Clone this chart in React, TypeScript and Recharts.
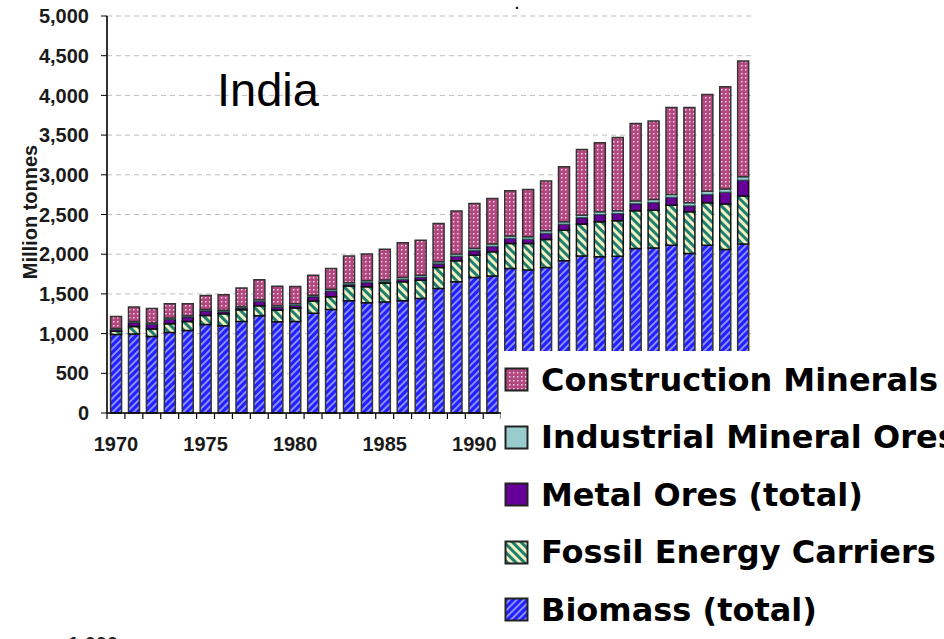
import React from 'react';
import { BarChart, Bar, XAxis, YAxis, CartesianGrid, Legend } from 'recharts';

// India, domestic material extraction 1970-2005 (million tonnes)
const years = [
  1970, 1971, 1972, 1973, 1974, 1975, 1976, 1977, 1978, 1979, 1980, 1981,
  1982, 1983, 1984, 1985, 1986, 1987, 1988, 1989, 1990, 1991, 1992, 1993,
  1994, 1995, 1996, 1997, 1998, 1999, 2000, 2001, 2002, 2003, 2004, 2005,
];

const biomass = [
  990, 995, 965, 1015, 1040, 1115, 1100, 1153, 1225, 1150, 1153, 1255,
  1305, 1413, 1390, 1398, 1413, 1443, 1569, 1652, 1707, 1724, 1821, 1800,
  1833, 1917, 1976, 1967, 1975, 2073, 2078, 2114, 2010, 2114, 2060, 2127,
];

const fossilEnergy = [
  40, 95, 93, 109, 113, 113, 151, 147, 126, 143, 169, 157,
  159, 185, 200, 235, 239, 230, 264, 264, 281, 306, 315, 336,
  353, 386, 403, 441, 445, 473, 475, 504, 524, 533, 571, 605,
];

const metalOres = [
  25, 51, 61, 58, 57, 60, 27, 26, 58, 42, 36, 53,
  73, 22, 54, 20, 31, 39, 46, 59, 57, 69, 64, 54,
  78, 75, 81, 93, 92, 90, 99, 98, 75, 106, 150, 201,
];

const industrialMinerals = [
  10, 12, 14, 14, 15, 15, 15, 16, 17, 17, 18, 18,
  20, 20, 22, 22, 24, 24, 25, 26, 27, 28, 28, 29,
  30, 30, 32, 33, 34, 35, 36, 37, 38, 39, 40, 42,
];

const constructionMinerals = [
  150, 181, 184, 180, 151, 177, 197, 232, 252, 243, 218, 252,
  264, 336, 336, 387, 436, 441, 484, 542, 568, 576, 570, 597,
  627, 693, 828, 869, 925, 975, 990, 1096, 1202, 1219, 1289, 1458,
];

const yTicks = [0, 500, 1000, 1500, 2000, 2500, 3000, 3500, 4000, 4500, 5000];

// legend reads top-down, opposite to the stacking order
const legendOrder = ['construction', 'industrial', 'metal', 'fossil', 'biomass'];

const data = years.map((year, i) => ({
  year,
  biomass: biomass[i],
  fossil: fossilEnergy[i],
  metal: metalOres[i],
  industrial: industrialMinerals[i],
  construction: constructionMinerals[i],
}));

const axisFont = '"Liberation Sans", Arial, sans-serif';
const legendLeft = 501; // legend box sits over the right part of the plot

function Patterns({ prefix }: { prefix: string }) {
  return (
    <defs>
      <pattern id={`${prefix}bio`} width='5' height='5' patternUnits='userSpaceOnUse' patternTransform='rotate(45)'>
        <rect width='5' height='5' fill='#1f1fff' />
        <rect width='2' height='5' fill='#8c8cff' />
      </pattern>
      <pattern id={`${prefix}fossil`} width='6' height='6' patternUnits='userSpaceOnUse' patternTransform='rotate(-45)'>
        <rect width='6' height='6' fill='#1e7f6e' />
        <rect width='3' height='6' fill='#f0f0c4' />
      </pattern>
      <pattern id={`${prefix}constr`} width='4' height='4' patternUnits='userSpaceOnUse'>
        <rect width='4' height='4' fill='#b3477f' />
        <rect x='1' y='1' width='1.5' height='1.5' fill='#f3d2e4' />
      </pattern>
    </defs>
  );
}

const legendFill: Record<string, string> = {
  construction: 'url(#lgconstr)',
  industrial: '#99cccc',
  metal: '#660099',
  fossil: 'url(#lgfossil)',
  biomass: 'url(#lgbio)',
};

const renderLegend = (props: any) => {
  const items = [...(props.payload || [])].sort(
    (a: any, b: any) => legendOrder.indexOf(a.dataKey) - legendOrder.indexOf(b.dataKey)
  );
  return (
    <div
      style={{
        width: 443,
        height: 288,
        background: '#fff',
        fontFamily: '"DejaVu Sans", sans-serif',
        fontWeight: 'bold',
        fontSize: 32,
        color: '#000',
        overflow: 'hidden',
      }}
    >
      <svg width='0' height='0' style={{ position: 'absolute' }}>
        <Patterns prefix='lg' />
      </svg>
      {items.map((item: any) => (
        <div
          key={item.dataKey}
          style={{ height: 57.5, display: 'flex', alignItems: 'center', whiteSpace: 'nowrap' }}
        >
          <svg width={25} height={25} style={{ marginLeft: 3, marginRight: 12, flex: 'none' }}>
            <rect x={1.5} y={1.5} width={22} height={22} fill={legendFill[item.dataKey]} stroke='#222' strokeWidth={2} />
          </svg>
          <span>{item.value}</span>
        </div>
      ))}
    </div>
  );
};

const YearTick = (props: any) => {
  const { x, y, payload, index, visibleTicksCount } = props;
  const half = payload?.offset || 8.95;
  const year = Number(payload.value);
  // labels under the legend box are hidden in the original
  const showLabel = year % 5 === 0 && x + 22 < legendLeft;
  return (
    <g>
      <line x1={x - half} x2={x - half} y1={y} y2={y + 6} stroke='#000' strokeWidth={1.2} />
      {index === visibleTicksCount - 1 && (
        <line x1={x + half} x2={x + half} y1={y} y2={y + 6} stroke='#000' strokeWidth={1.2} />
      )}
      {showLabel && (
        <text x={x} y={y + 38} textAnchor='middle' fontSize={20} fontWeight='bold' fontFamily={axisFont} fill='#1a1a1a'>
          {year}
        </text>
      )}
    </g>
  );
};

export default function App() {
  return (
    <div style={{ position: 'absolute', left: 0, top: 0, width: 944, height: 639, overflow: 'hidden', background: '#fff' }}>
      <BarChart
        width={944}
        height={639}
        data={data}
        margin={{ top: 16, right: 192, left: 0, bottom: 196 }}
        barCategoryGap='20%'
      >
        <Patterns prefix='ch' />
        <CartesianGrid vertical={false} stroke='#bdbdbd' strokeDasharray='5 4' />
        <XAxis
          dataKey='year'
          interval={0}
          height={30}
          tickLine={false}
          tickSize={0}
          tickMargin={0}
          axisLine={{ stroke: '#000', strokeWidth: 1.5 }}
          tick={<YearTick />}
        />
        <YAxis
          width={107}
          domain={[0, 5000]}
          ticks={yTicks}
          interval={0}
          tickSize={6}
          tickMargin={12}
          tickLine={{ stroke: '#000' }}
          axisLine={{ stroke: '#333', strokeWidth: 2 }}
          tickFormatter={(v: number) => v.toLocaleString('en-US')}
          tick={{ fontSize: 20, fontWeight: 'bold', fontFamily: axisFont, fill: '#1a1a1a' }}
        />
        <Bar dataKey='biomass' name='Biomass (total)' stackId='a' fill='url(#chbio)' stroke='#333' strokeWidth={1.5} isAnimationActive={false} />
        <Bar dataKey='fossil' name='Fossil Energy Carriers' stackId='a' fill='url(#chfossil)' stroke='#111' strokeWidth={1.5} isAnimationActive={false} />
        <Bar dataKey='metal' name='Metal Ores (total)' stackId='a' fill='#660099' stroke='#111' strokeWidth={1.5} isAnimationActive={false} />
        <Bar dataKey='industrial' name='Industrial Mineral Ores' stackId='a' fill='#99cccc' stroke='#2a5a5a' strokeWidth={1} isAnimationActive={false} />
        <Bar dataKey='construction' name='Construction Minerals' stackId='a' fill='url(#chconstr)' stroke='#333' strokeWidth={1.5} isAnimationActive={false} />
        <Legend
          layout='vertical'
          align='center'
          verticalAlign='middle'
          content={renderLegend}
          wrapperStyle={{ left: legendLeft, top: 351, width: 443, height: 288 }}
        />
      </BarChart>
      <svg width={944} height={639} style={{ position: 'absolute', left: 0, top: 0, pointerEvents: 'none' }}>
        <text x={217} y={106} fontSize={47} fontFamily={axisFont} fill='#000'>India</text>
        <text transform='translate(37,212) rotate(-90)' textAnchor='middle' fontSize={20} fontWeight='bold' fontFamily={axisFont} fill='#1a1a1a'>
          Million tonnes
        </text>
        <text x={515} y={9} fontSize={14} fontWeight='bold' fontFamily={axisFont} fill='#000'>.</text>
        <text x={68} y={651} fontSize={20} fontWeight='bold' fontFamily={axisFont} fill='#222'>1,000</text>
      </svg>
    </div>
  );
}
